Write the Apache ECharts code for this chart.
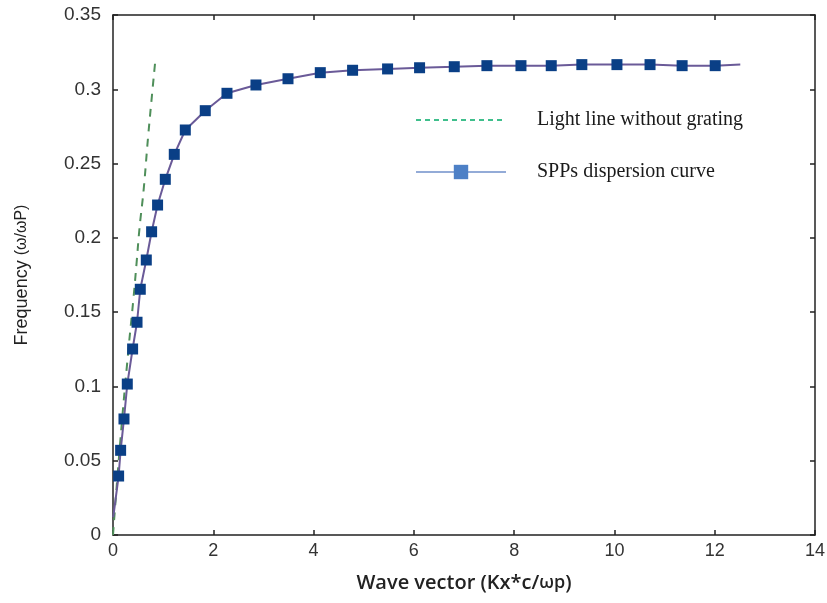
<!DOCTYPE html>
<html>
<head>
<meta charset="utf-8">
<script src="https://cdn.jsdelivr.net/npm/echarts@6/dist/echarts.min.js"></script>
<style>html,body{margin:0;padding:0;background:#fff;}#c{width:827px;height:603px;}</style>
</head>
<body>
<div id="c"></div>
<script>
// Data
var xTicks = [0, 2, 4, 6, 8, 10, 12, 14];
var yTicks = [0, 0.05, 0.1, 0.15, 0.2, 0.25, 0.3, 0.35];

// SPPs dispersion curve (markers)
var sppX = [0.112, 0.152, 0.219, 0.285, 0.391, 0.479, 0.544, 0.664, 0.770, 0.889, 1.043, 1.222, 1.442,
            1.84, 2.273, 2.851, 3.49, 4.134, 4.778, 5.476, 6.114, 6.806, 7.457, 8.136, 8.74, 9.35,
            10.05, 10.71, 11.35, 12.01];
var sppY = [0.0397, 0.057, 0.0781, 0.1016, 0.1252, 0.1432, 0.1654, 0.1851, 0.2041, 0.2221, 0.2394, 0.2562, 0.2726,
            0.2856, 0.2973, 0.3029, 0.3071, 0.3112, 0.3128, 0.3137, 0.3145, 0.3152, 0.3159, 0.3159, 0.3159, 0.3166,
            0.3166, 0.3166, 0.3159, 0.3159];
// curve ends (no marker)
var sppStart = [0.005, 0.012];
var sppEnd = [12.51, 0.3166];

// Light line without grating
var lightX = [0, 0.15, 0.3, 0.41, 0.47, 0.53, 0.61, 0.70, 0.78, 0.84];
var lightY = [0, 0.065, 0.122, 0.160, 0.183, 0.207, 0.232, 0.268, 0.297, 0.318];

var sppData = [{value: sppStart, symbol: 'none'}];
for (var i = 0; i < sppX.length; i++) sppData.push([sppX[i], sppY[i]]);
sppData.push({value: sppEnd, symbol: 'none'});
var lightData = lightX.map(function (x, i) { return [x, lightY[i]]; });

var chart = echarts.init(document.getElementById('c'));
var axisCommon = {
  min: 0,
  axisLine: {show: true, onZero: false, lineStyle: {color: '#222', width: 1.5}},
  axisTick: {show: true, inside: true, length: 5, lineStyle: {color: '#222', width: 1.5}},
  splitLine: {show: false}
};
chart.setOption({
  animation: false,
  backgroundColor: '#fff',
  grid: {left: 113, right: 12, top: 15, bottom: 68, containLabel: false, outerBoundsMode: 'none'},
  legend: {
    orient: 'vertical',
    left: 410,
    top: 105,
    itemWidth: 90,
    itemHeight: 18,
    itemGap: 32,
    textStyle: {fontFamily: 'Liberation Serif, serif', fontSize: 20, color: '#1a1a1a', padding: [0, 0, 0, 26]},
    data: [
      {name: 'Light line without grating',
       itemStyle: {color: 'rgba(0,0,0,0)', borderWidth: 0, opacity: 0},
       lineStyle: {color: '#3fbf8c', type: [5, 4], width: 2}},
      {name: 'SPPs dispersion curve',
       itemStyle: {color: '#4d80c6'}, lineStyle: {color: '#6f8fca', width: 1.5}}
    ]
  },
  xAxis: [
    Object.assign({}, axisCommon, {
      type: 'value', position: 'bottom', max: 14, interval: 2,
      axisLabel: {color: '#333', fontSize: 18, fontFamily: 'Liberation Sans, Arial', margin: 7},
      name: 'Wave vector (Kx*c/{s|ωp})',
      nameLocation: 'middle', nameGap: 38,
      nameTextStyle: {color: '#222', fontSize: 20, fontFamily: 'Open Sans', fontWeight: 600,
        rich: {s: {fontSize: 18, fontFamily: 'Open Sans', fontWeight: 600, color: '#222'}}}
    }),
    Object.assign({}, axisCommon, {
      type: 'value', position: 'top', max: 14, interval: 2,
      axisLabel: {show: false}
    })
  ],
  yAxis: [
    Object.assign({}, axisCommon, {
      type: 'value', position: 'left', max: 0.35, interval: 0.05,
      axisLabel: {color: '#333', fontSize: 19, fontFamily: 'Liberation Sans, Arial', margin: 12},
      name: 'Frequency {s|(ω/ωP)}',
      nameLocation: 'middle', nameGap: 82,
      nameTextStyle: {color: '#222', fontSize: 18, fontFamily: 'Liberation Sans, Arial',
        rich: {s: {fontSize: 16, fontFamily: 'Liberation Sans, Arial', color: '#222'}}}
    }),
    Object.assign({}, axisCommon, {
      type: 'value', position: 'right', max: 0.35, interval: 0.05,
      axisLabel: {show: false}
    })
  ],
  series: [
    {
      name: 'Light line without grating', type: 'line', xAxisIndex: 0, yAxisIndex: 0,
      data: lightData, symbol: 'none', smooth: true,
      lineStyle: {color: '#4f8f5a', type: [8, 7], width: 2}
    },
    {
      name: 'SPPs dispersion curve', type: 'line', xAxisIndex: 0, yAxisIndex: 0,
      data: sppData, symbol: 'rect', symbolSize: 11, smooth: false,
      itemStyle: {color: '#0a3f86'},
      lineStyle: {color: '#6a5a98', width: 2}
    }
  ]
});
</script>
</body>
</html>
